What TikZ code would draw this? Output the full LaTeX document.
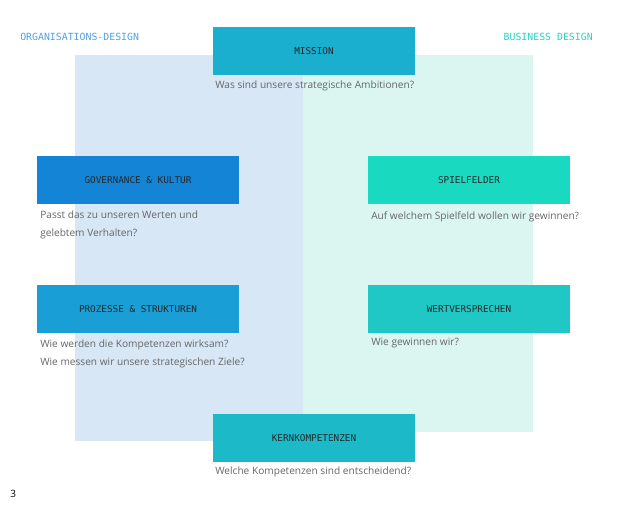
\documentclass[tikz,border=0pt]{standalone}
\usepackage{fontspec}
\setmainfont{Open Sans}
\setmonofont{DejaVu Sans Mono}
\begin{document}
\begin{tikzpicture}[x=0.75pt,y=-0.75pt,
  box/.style={draw=none,minimum width=151.5pt,minimum height=36pt,inner sep=0pt,font=\ttfamily\fontsize{7}{8}\selectfont,text=black!85},
  q/.style={anchor=north west,inner sep=0pt,font=\fontsize{7.6}{13}\selectfont,text=black!60,align=left},
  hd/.style={anchor=west,inner sep=0pt,font=\ttfamily\fontsize{7.4}{8}\selectfont}]
\useasboundingbox (0,0) rectangle (632,504);
\fill[fill={rgb,255:red,215;green,231;blue,246}] (75,55) rectangle (303,441);
\fill[fill={rgb,255:red,219;green,246;blue,240}] (303,55) rectangle (533,432);
\node[hd,text={rgb,255:red,80;green,160;blue,230}] (od) at (20,37) {ORGANISATIONS-DESIGN};
\node[hd,anchor=east,text={rgb,255:red,40;green,210;blue,195}] (bd) at (593,37) {BUSINESS DESIGN};
\node[box,fill={rgb,255:red,26;green,174;blue,207}] (mi) at (314,51) {MISSION};
\node[box,fill={rgb,255:red,20;green,133;blue,214}] (go) at (138,180) {GOVERNANCE \& KULTUR};
\node[box,fill={rgb,255:red,25;green,217;blue,192}] (sp) at (469,180) {SPIELFELDER};
\node[box,fill={rgb,255:red,25;green,158;blue,214}] (pr) at (138,309) {PROZESSE \& STRUKTUREN};
\node[box,fill={rgb,255:red,31;green,200;blue,196}] (we) at (469,309) {WERTVERSPRECHEN};
\node[box,fill={rgb,255:red,28;green,186;blue,201}] (ke) at (314,438) {KERNKOMPETENZEN};
\node[q] (qmi) at (215,81) {Was sind unsere strategische Ambitionen?};
\node[q] (qgo) at (40,211) {Passt das zu unseren Werten und\\gelebtem Verhalten?};
\node[q] (qsp) at (371,211) {Auf welchem Spielfeld wollen wir gewinnen?};
\node[q] (qpr) at (40,340) {Wie werden die Kompetenzen wirksam?\\Wie messen wir unsere strategischen Ziele?};
\node[q] (qwe) at (371,338) {Wie gewinnen wir?};
\node[q] (qke) at (215,467) {Welche Kompetenzen sind entscheidend?};
\node[anchor=west,inner sep=0pt,font=\fontsize{7.5}{8}\selectfont] (pg) at (10,494) {3};
\end{tikzpicture}
\end{document}
